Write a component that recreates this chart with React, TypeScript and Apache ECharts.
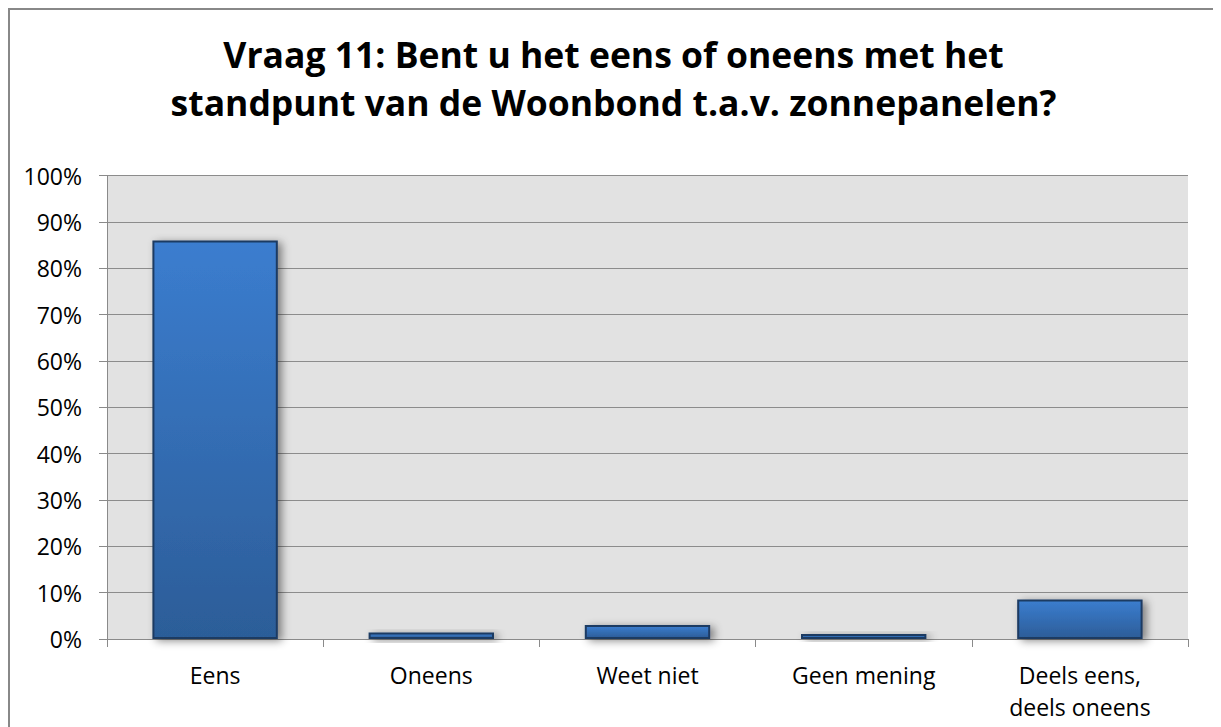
import React, { useEffect, useRef } from "react";
import * as echarts from "echarts";

const titleLines = [
  "Vraag 11: Bent u het eens of oneens met het",
  "standpunt van de Woonbond t.a.v. zonnepanelen?",
];
const categories = ["Eens", "Oneens", "Weet niet", "Geen mening", "Deels eens,\ndeels oneens"];
const values = [86, 1.4, 3, 1.1, 8.5];
const yTicks = { min: 0, max: 100, interval: 10 };

export default function App() {
  const ref = useRef<HTMLDivElement>(null);
  useEffect(() => {
    if (!ref.current) return;
    const chart = echarts.init(ref.current, undefined, { renderer: "svg" });
    chart.setOption({
      animation: false,
      title: {
        text: titleLines.join("\n"),
        left: "center",
        top: 15,
        textStyle: {
          fontFamily: "Open Sans",
          fontWeight: "bold",
          fontSize: 35.5,
          lineHeight: 48,
          color: "#000",
        },
      },
      grid: {
        left: 97,
        right: 29,
        top: 165.5,
        bottom: 107,
        show: true,
        backgroundColor: "#e2e2e2",
        borderWidth: 0,
      },
      xAxis: {
        type: "category",
        data: categories,
        boundaryGap: true,
        axisLine: { lineStyle: { color: "#8a8a8a", width: 1 } },
        axisTick: { show: true, length: 8, lineStyle: { color: "#8a8a8a" } },
        axisLabel: {
          fontFamily: "Open Sans",
          fontSize: 23,
          color: "#000",
          margin: 20,
          lineHeight: 32,
          interval: 0,
        },
      },
      yAxis: {
        type: "value",
        min: yTicks.min,
        max: yTicks.max,
        interval: yTicks.interval,
        axisLine: { show: true, lineStyle: { color: "#8a8a8a", width: 1 } },
        axisTick: { show: true, length: 8, lineStyle: { color: "#8a8a8a" } },
        splitLine: { show: true, lineStyle: { color: "#8c8c8c", width: 1 } },
        axisLabel: {
          formatter: "{value}%",
          fontFamily: "Open Sans",
          fontSize: 23,
          color: "#000",
          margin: 25,
        },
      },
      series: [
        {
          type: "bar",
          data: values,
          barWidth: "58%",
          itemStyle: {
            color: new echarts.graphic.LinearGradient(0, 0, 0, 1, [
              { offset: 0, color: "#3b7dcf" },
              { offset: 1, color: "#2c5d98" },
            ]),
            borderColor: "#1d3a62",
            borderWidth: 2,
            shadowBlur: 8,
            shadowOffsetX: 4,
            shadowOffsetY: 2,
            shadowColor: "rgba(0,0,0,0.45)",
          },
        },
      ],
    });
    return () => chart.dispose();
  }, []);
  return (
    <div
      style={{
        width: 1211,
        height: 740,
        border: "2px solid #888",
        boxSizing: "border-box",
        position: "relative",
        background: "#fff",
      }}
    >
      <div ref={ref} style={{ position: "absolute", left: 0, top: 0, width: 1207, height: 736 }} />
    </div>
  );
}
